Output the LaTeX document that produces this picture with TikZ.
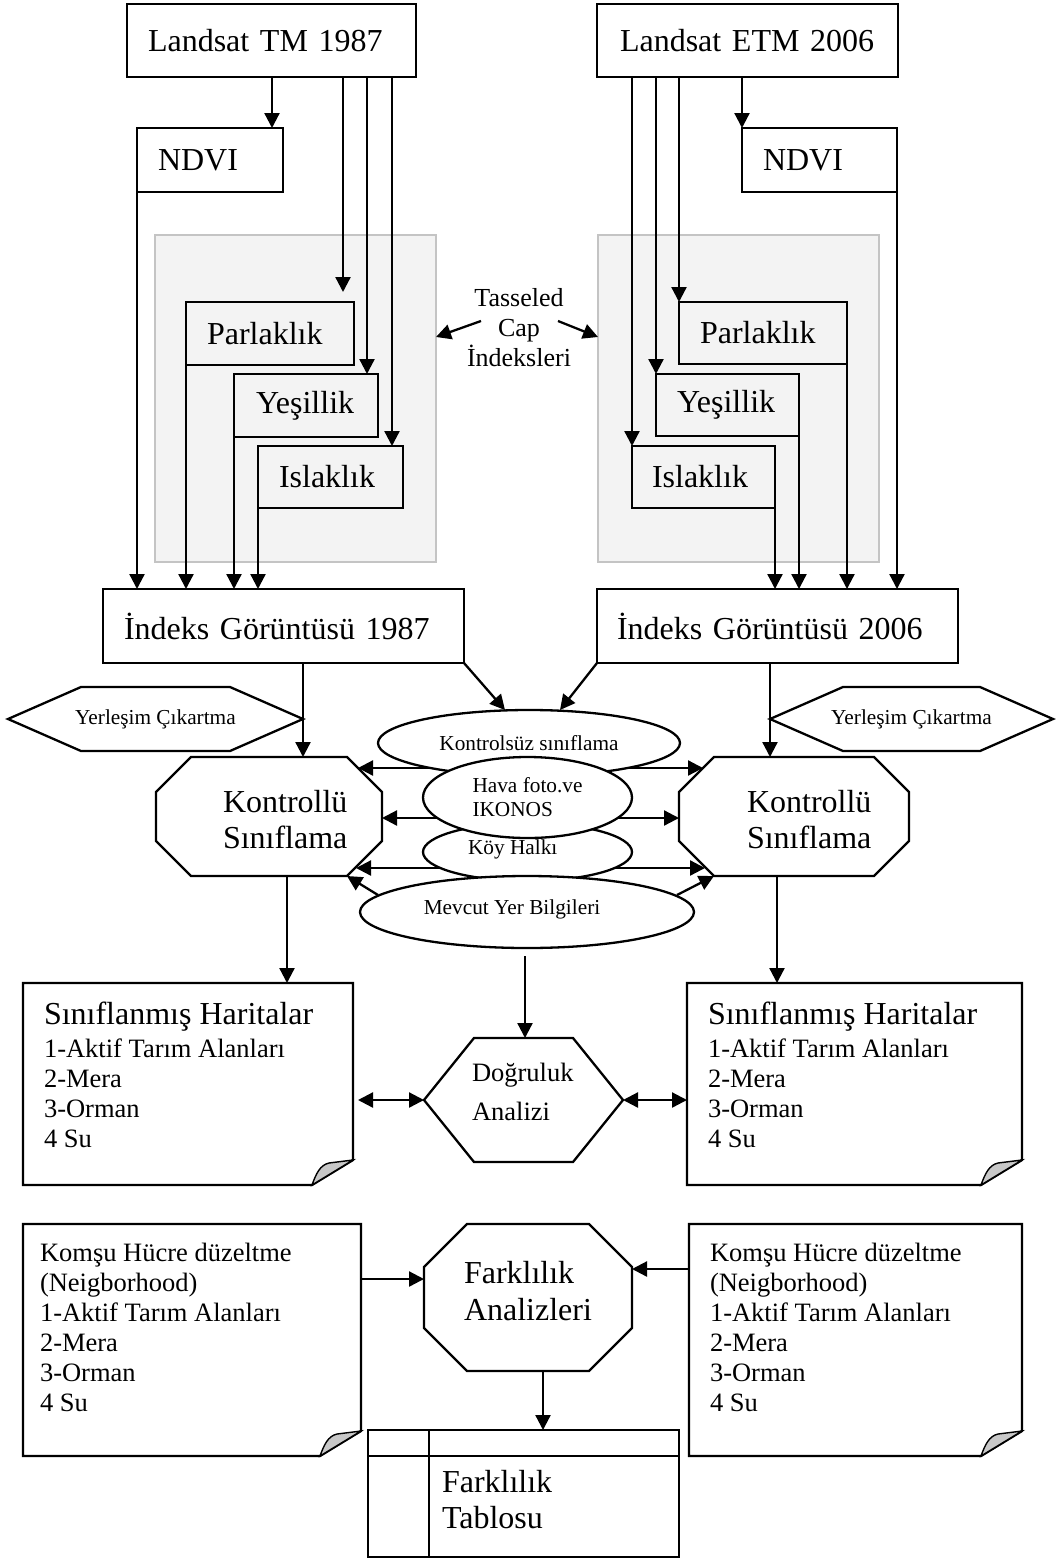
\documentclass[tikz,border=0pt]{standalone}
\usepackage{fontspec}
\setmainfont{Liberation Serif}
\usetikzlibrary{arrows.meta,shapes.geometric}
\definecolor{tcfill}{RGB}{243,243,243}
\definecolor{tcdraw}{RGB}{196,196,196}
\definecolor{foldfill}{RGB}{200,200,200}
\hyphenpenalty=10000
\newcommand\fBig{\fontsize{32}{37}\selectfont}
\newcommand\fMid{\fontsize{26.5}{30}\selectfont}
\newcommand\fSm{\fontsize{21.3}{24}\selectfont}
\newcommand\fTc{\fontsize{26}{30}\selectfont}
\newcommand\octo[2]{\draw ([xshift=#2]#1.north west) -- ([xshift=-#2]#1.north east) -- ([yshift=-#2]#1.north east) -- ([yshift=#2]#1.south east) -- ([xshift=-#2]#1.south east) -- ([xshift=#2]#1.south west) -- ([yshift=#2]#1.south west) -- ([yshift=-#2]#1.north west) -- cycle;}
\newcommand\hexo[2]{\draw ([xshift=#2]#1.north west) -- ([xshift=-#2]#1.north east) -- (#1.east) -- ([xshift=-#2]#1.south east) -- ([xshift=#2]#1.south west) -- (#1.west) -- cycle;}
\newcommand\docp[1]{\draw[fill=white] (#1.north west) -- (#1.north east) -- ([yshift=25pt]#1.south east) -- ([xshift=-41pt]#1.south east) -- (#1.south west) -- cycle;
\draw[fill=foldfill, line width=1.4pt] ([xshift=-41pt]#1.south east) .. controls ([xshift=-37pt,yshift=11pt]#1.south east) and ([xshift=-33pt,yshift=20pt]#1.south east) .. ([xshift=-24pt,yshift=22pt]#1.south east) -- ([yshift=25pt]#1.south east) -- cycle;}
\begin{document}
\begin{tikzpicture}[x=1pt,y=-1pt, line width=2.3pt,
  tb/.style={draw, rectangle, inner ysep=0pt, outer sep=0pt, anchor=north west, align=left, font=\fBig},
  frame/.style={rectangle, inner sep=0pt, outer sep=0pt, anchor=north west},
  gbox/.style={frame, draw=tcdraw, fill=tcfill},
  ell/.style={ellipse, draw, fill=white, inner sep=0pt, outer sep=0pt},
  arr/.style={-{Triangle[length=15pt,width=15pt]}},
  darr/.style={{Triangle[length=15pt,width=15pt]}-{Triangle[length=15pt,width=15pt]}},
  lbl/.style={inner sep=0pt, outer sep=0pt, align=left}
]
\fill[white] (0,0) rectangle (1056,1558);
\useasboundingbox (0,0) rectangle (1056,1558);

% top boxes
\node[tb, minimum width=289pt, minimum height=73pt, text width=247pt, inner xsep=21pt] (lts) at (127,4) {Landsat TM 1987};
\node[tb, minimum width=301pt, minimum height=73pt, text width=255pt, inner xsep=23pt] (lets) at (597,4) {Landsat ETM 2006};
\node[tb, minimum width=146pt, minimum height=64pt, text width=104pt, inner xsep=21pt] (ndviL) at (137,128) {NDVI};
\node[tb, minimum width=155pt, minimum height=64pt, text width=113pt, inner xsep=21pt] (ndviR) at (742,128) {NDVI};

% tasseled cap groups
\node[gbox, minimum width=281pt, minimum height=327pt] (tcL) at (155,235) {};
\node[gbox, minimum width=281pt, minimum height=327pt] (tcR) at (598,235) {};
\node[tb, fill=tcfill, minimum width=168pt, minimum height=63pt, text width=126pt, inner xsep=21pt] (parL) at (186,302) {Parlaklık};
\node[tb, fill=tcfill, minimum width=144pt, minimum height=63pt, text width=100pt, inner xsep=22pt] (yesL) at (234,374) {Yeşillik};
\node[tb, fill=tcfill, minimum width=145pt, minimum height=62pt, text width=103pt, inner xsep=21pt] (islL) at (258,446) {Islaklık};
\node[tb, fill=tcfill, minimum width=168pt, minimum height=62pt, text width=126pt, inner xsep=21pt] (parR) at (679,302) {Parlaklık};
\node[tb, fill=tcfill, minimum width=143pt, minimum height=62pt, text width=101pt, inner xsep=21pt] (yesR) at (656,374) {Yeşillik};
\node[tb, fill=tcfill, minimum width=143pt, minimum height=62pt, text width=103pt, inner xsep=20pt] (islR) at (632,446) {Islaklık};
\node[inner sep=0pt, align=center, font=\fTc] (tct) at (519,328) {Tasseled\\Cap\\İndeksleri};
\coordinate (tal) at (481,321);
\coordinate (tar) at (558,321);
\draw[arr] (tal) -- (tcL.east |- 0,337);
\draw[arr] (tar) -- (tcR.west |- 0,337);

% index images
\node[tb, minimum width=361pt, minimum height=74pt, text width=319pt, inner xsep=21pt] (indL) at (103,589) {İndeks Görüntüsü 1987};
\node[tb, minimum width=361pt, minimum height=74pt, text width=321pt, inner xsep=20pt] (indR) at (597,589) {İndeks Görüntüsü 2006};

% arrows top left
\draw[arr] (272,0 |- lts.south) -- (272,0 |- ndviL.north);
\draw[arr, shorten >=10pt] (343,0 |- lts.south) -- (343,0 |- parL.north);
\draw[arr] (367,0 |- lts.south) -- (367,0 |- yesL.north);
\draw[arr] (392,0 |- lts.south) -- (392,0 |- islL.north);
\draw[arr] (ndviL.south west) -- (ndviL.south west |- indL.north);
\draw[arr] (parL.south west) -- (parL.south west |- indL.north);
\draw[arr] (yesL.south west) -- (yesL.south west |- indL.north);
\draw[arr] (islL.south west) -- (islL.south west |- indL.north);
% arrows top right
\draw[arr] (ndviR.north west |- lets.south) -- (ndviR.north west);
\draw[arr] (islR.north west |- lets.south) -- (islR.north west);
\draw[arr] (yesR.north west |- lets.south) -- (yesR.north west);
\draw[arr] (parR.north west |- lets.south) -- (parR.north west);
\draw[arr] (ndviR.south east) -- (ndviR.south east |- indR.north);
\draw[arr] (parR.south east) -- (parR.south east |- indR.north);
\draw[arr] (yesR.south east) -- (yesR.south east |- indR.north);
\draw[arr] (islR.south east) -- (islR.south east |- indR.north);

% Yerlesim hexagons
\node[frame, minimum width=295pt, minimum height=64pt, font=\fSm] (yerL) at (8,687) {Yerleşim Çıkartma};
\hexo{yerL}{73pt}
\node[frame, minimum width=283pt, minimum height=64pt, font=\fSm] (yerR) at (770,687) {Yerleşim Çıkartma};
\hexo{yerR}{73pt}

% Kontrollu octagons
\node[frame, minimum width=226pt, minimum height=119pt] (konL) at (156,757) {};
\octo{konL}{35pt}
\node[frame, minimum width=230pt, minimum height=119pt] (konR) at (679,757) {};
\octo{konR}{35pt}
\node[lbl, anchor=west, font=\fontsize{32}{36}\selectfont] (konLt) at (223,820) {Kontrollü\\Sınıflama};
\node[lbl, anchor=west, font=\fontsize{32}{36}\selectfont] (konRt) at (747,820) {Kontrollü\\Sınıflama};
\draw[arr] (303,0 |- indL.south) -- (303,0 |- konL.north);
\draw[arr] (770,0 |- indR.south) -- (770,0 |- konR.north);

% middle arrows (behind ellipses)
\coordinate (m1l) at (358,768); \coordinate (m1r) at (703,768);
\draw[darr] (m1l) -- (m1r);
\draw[darr] (konL.east |- 0,818) -- (konR.west |- 0,818);
\coordinate (m3l) at (356,868); \coordinate (m3r) at (705,868);
\draw[darr] (m3l) -- (m3r);
\coordinate (mdl) at (378,895); \coordinate (mdr) at (677,895);
\draw[arr] (mdl) -- ([xshift=-35pt]konL.south east);
\draw[arr] (mdr) -- ([xshift=35pt]konR.south west);

% ellipses
\node[ell, minimum width=302pt, minimum height=66pt, font=\fSm] (kon) at (529,743) {Kontrolsüz sınıflama};
\node[ell, minimum width=209pt, minimum height=58pt] (koy) at (527.5,852) {};
\node[ell, minimum width=209pt, minimum height=81pt, font=\fSm, align=left] (hava) at (527.5,797.5) {Hava foto.ve\\IKONOS};
\node[ell, minimum width=334pt, minimum height=72pt] (mev) at (527,912) {};
\node[lbl, anchor=west, font=\fSm] (koyt) at (468,849) {Köy Halkı};
\node[lbl, font=\fSm] (mevt) at (512,909) {Mevcut Yer Bilgileri};
\draw[arr] (indL.south east) -- (505,0 |- kon.north);
\draw[arr] (indR.south west) -- (560,0 |- kon.north);

% classified maps
\node[frame, minimum width=330pt, minimum height=202pt] (docL) at (23,983) {};
\docp{docL}
\node[frame, minimum width=335pt, minimum height=202pt] (docR) at (687,983) {};
\docp{docR}
\node[lbl, anchor=west, font=\fMid] (docLt) at (44,1075) {{\fBig Sınıflanmış Haritalar}\\[3pt]1-Aktif Tarım Alanları\\2-Mera\\3-Orman\\4 Su};
\node[lbl, anchor=west, font=\fMid] (docRt) at (708,1075) {{\fBig Sınıflanmış Haritalar}\\[3pt]1-Aktif Tarım Alanları\\2-Mera\\3-Orman\\4 Su};
\draw[arr] (287,0 |- konL.south) -- (287,0 |- docL.north);
\draw[arr] (777,0 |- konR.south) -- (777,0 |- docR.north);

% accuracy
\node[frame, minimum width=199pt, minimum height=124pt] (dog) at (424,1038) {};
\hexo{dog}{50pt}
\node[lbl, anchor=west, font=\fontsize{26.5}{39}\selectfont] (dogt) at (472,1092) {Doğruluk\\Analizi};
\draw[arr, shorten <=8pt] (525,0 |- mev.south) -- (525,0 |- dog.north);
\draw[darr, shorten <=5pt] (docL.east |- dog.west) -- (dog.west);
\draw[darr] (dog.east) -- (docR.west |- dog.east);

% neighbourhood docs
\node[frame, minimum width=338pt, minimum height=232pt] (komL) at (23,1224) {};
\docp{komL}
\node[frame, minimum width=333pt, minimum height=232pt] (komR) at (689,1224) {};
\docp{komR}
\node[lbl, anchor=west, font=\fMid] (komLt) at (40,1327) {Komşu Hücre düzeltme\\(Neigborhood)\\1-Aktif Tarım Alanları\\2-Mera\\3-Orman\\4 Su};
\node[lbl, anchor=west, font=\fMid] (komRt) at (710,1327) {Komşu Hücre düzeltme\\(Neigborhood)\\1-Aktif Tarım Alanları\\2-Mera\\3-Orman\\4 Su};

% difference analysis
\node[frame, minimum width=208pt, minimum height=147pt] (fark) at (424,1224) {};
\octo{fark}{43pt}
\node[lbl, anchor=west, font=\fontsize{32}{37}\selectfont] (farkt) at (464,1291) {Farklılık\\Analizleri};
\draw[arr] (komL.east |- 0,1279) -- (fark.west |- 0,1279);
\draw[arr] (komR.west |- 0,1269) -- (fark.east |- 0,1269);

% table
\node[frame, draw, minimum width=311pt, minimum height=127pt] (tbl) at (368,1430) {};
\draw (tbl.north west |- 0,1456) -- (tbl.north east |- 0,1456);
\draw (429,0 |- tbl.north) -- (429,0 |- tbl.south);
\node[lbl, anchor=west, font=\fontsize{32}{36}\selectfont] (tblt) at (442,1500) {Farklılık\\Tablosu};
\draw[arr] (543,0 |- fark.south) -- (543,0 |- tbl.north);
\end{tikzpicture}
\end{document}
